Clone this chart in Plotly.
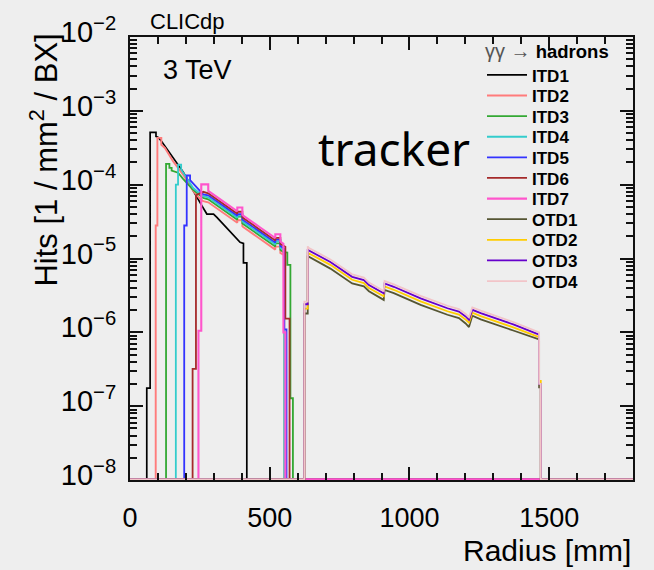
import plotly.graph_objects as go

Z = 1.02e-8  # empty bins are drawn on the frame bottom (ROOT log style)

# ---------------- data (radius in mm, hits per mm^2 per BX) ----------------
ITD1_r = [0, 60, 60, 72, 72, 93, 93, 100, 112, 125, 154, 190, 208, 226, 257, 275, 299, 311, 394, 406, 406, 418, 418, 1800]
ITD1_v = [Z, Z, 1.75e-7, 1.75e-7, 5.1e-4, 5.1e-4, 4.5e-4, 4.4e-4, 3.9e-4, 3.33e-4, 2.3e-4, 1.49e-4, 1.13e-4, 8.3e-5,
          5.2e-5, 4.0e-5, 4.0e-5, 3.6e-5, 1.66e-5, 1.6e-5, 8.7e-6, 8.7e-6, Z, Z]

ITD2_r = [0, 92, 92, 98, 98, 112, 112, 125, 136, 154, 172, 190, 208, 226, 251, 262, 280, 323, 384, 384,
          402, 402, 405, 466, 520, 520, 538, 538, 549, 552, 552, 1800]
ITD2_v = [Z, Z, 2.8e-5, 2.8e-5, 4.3e-4, 4.3e-4, 3.47e-4, 3.14e-4, 2.69e-4, 2.08e-4, 1.69e-4, 1.37e-4, 1.06e-4, 8.2e-5,
          6.4e-5, 6.0e-5, 5.77e-5, 4.44e-5, 3.05e-5, 3.3e-5, 3.3e-5, 2.74e-5, 2.67e-5, 1.84e-5, 1.32e-5, 1.45e-5,
          1.45e-5, 1.19e-5, 1.11e-5, 1.11e-5, Z, Z]

ITD3_r = [0, 129, 129, 141, 141, 149, 149, 172, 190, 208, 226, 262, 280, 323, 384, 384, 402, 402, 405, 466,
          520, 520, 538, 538, 549, 563, 563, 574, 574, 583, 583, 1800]
ITD3_v = [Z, Z, 1.91e-4, 1.91e-4, 1.69e-4, 1.69e-4, 1.55e-4, 1.45e-4, 1.2e-4, 1.0e-4, 8.5e-5, 6.6e-5, 6.33e-5, 4.87e-5,
          3.35e-5, 3.7e-5, 3.7e-5, 3.0e-5, 2.93e-5, 2.02e-5, 1.45e-5, 1.6e-5, 1.6e-5, 1.31e-5, 1.22e-5, 1.2e-5,
          8.2e-6, 8.2e-6, 1.28e-7, 1.28e-7, Z, Z]

ITD4_r = [0, 164, 164, 172, 172, 183, 183, 191, 208, 226, 262, 280, 323, 384, 384, 402, 402, 405, 466, 520,
          520, 538, 538, 549, 552, 552, 1800]
ITD4_v = [Z, Z, 1.0e-4, 1.0e-4, 1.86e-4, 1.86e-4, 1.6e-4, 1.45e-4, 1.15e-4, 9.0e-5, 7.0e-5, 6.73e-5, 5.18e-5, 3.56e-5,
          3.8e-5, 3.8e-5, 3.2e-5, 3.12e-5, 2.15e-5, 1.55e-5, 1.7e-5, 1.7e-5, 1.39e-5, 1.29e-5, 1.29e-5, Z, Z]

ITD5_r = [0, 194, 194, 203, 203, 215, 215, 233, 262, 280, 323, 384, 384, 402, 402, 405, 466, 520, 520, 538,
          538, 549, 552, 552, 560, 560, 1800]
ITD5_v = [Z, Z, 2.8e-5, 2.8e-5, 1.33e-4, 1.33e-4, 1.15e-4, 9.7e-5, 7.4e-5, 7.16e-5, 5.51e-5, 3.78e-5, 4.0e-5, 4.0e-5,
          3.4e-5, 3.31e-5, 2.29e-5, 1.64e-5, 1.8e-5, 1.8e-5, 1.48e-5, 1.37e-5, 1.37e-5, 1.1e-6, 1.1e-6, Z, Z]

ITD6_r = [0, 224, 224, 236, 236, 262, 280, 323, 384, 384, 402, 402, 405, 466, 520, 520, 538, 538, 556, 556,
          571, 571, 1800]
ITD6_v = [Z, Z, 3.2e-7, 3.2e-7, 7.2e-5, 8.0e-5, 7.62e-5, 5.86e-5, 4.03e-5, 4.3e-5, 4.3e-5, 3.62e-5, 3.53e-5, 2.44e-5,
          1.75e-5, 1.9e-5, 1.9e-5, 1.57e-5, 1.44e-5, 1.53e-6, 1.53e-6, Z, Z]

ITD7_r = [0, 245, 245, 255, 255, 280, 280, 323, 384, 384, 402, 402, 405, 466, 520, 520, 538, 538, 549, 549,
          556, 556, 1800]
ITD7_v = [Z, Z, 1.05e-6, 1.05e-6, 1.01e-4, 1.01e-4, 8.23e-5, 6.33e-5, 4.35e-5, 4.91e-5, 4.91e-5, 3.91e-5, 3.81e-5,
          2.63e-5, 1.89e-5, 2.13e-5, 2.13e-5, 1.70e-5, 1.58e-5, 1.0e-6, 1.0e-6, Z, Z]

OTD_r = [0, 624, 624, 636, 636, 639, 717, 795, 837, 855, 908, 911, 944, 1040, 1136, 1177, 1201, 1213, 1225,
         1255, 1374, 1446, 1464, 1464, 1470, 1470, 1800]
OTD1_v = [Z, Z, 1.8e-6, 1.8e-6, 1.10e-5, 1.06e-5, 7.3e-6, 4.6e-6, 4.2e-6, 3.6e-6, 2.75e-6, 3.75e-6, 3.4e-6, 2.36e-6,
          1.73e-6, 1.56e-6, 1.32e-6, 1.18e-6, 1.68e-6, 1.5e-6, 1.05e-6, 8.3e-7, 8.0e-7, 1.8e-7, 1.8e-7, Z, Z]
OTD2_v = [Z, Z, 2.1e-6, 2.1e-6, 1.23e-5, 1.18e-5, 8.2e-6, 5.15e-6, 4.65e-6, 3.98e-6, 3.07e-6, 4.18e-6, 3.77e-6, 2.62e-6,
          1.93e-6, 1.74e-6, 1.49e-6, 1.35e-6, 1.84e-6, 1.66e-6, 1.16e-6, 9.0e-7, 8.6e-7, 2.2e-7, 2.2e-7, Z, Z]
OTD3_v = [Z, Z, 2.4e-6, 2.4e-6, 1.35e-5, 1.29e-5, 8.97e-6, 5.65e-6, 5.1e-6, 4.37e-6, 3.37e-6, 4.59e-6, 4.14e-6, 2.88e-6,
          2.12e-6, 1.91e-6, 1.64e-6, 1.48e-6, 2.02e-6, 1.82e-6, 1.27e-6, 9.8e-7, 9.3e-7, 2.0e-7, 2.0e-7, Z, Z]
OTD4_v = [Z, Z, 2.6e-6, 2.6e-6, 1.46e-5, 1.40e-5, 9.7e-6, 6.1e-6, 5.5e-6, 4.72e-6, 3.64e-6, 4.96e-6, 4.47e-6, 3.11e-6,
          2.29e-6, 2.06e-6, 1.77e-6, 1.60e-6, 2.18e-6, 1.97e-6, 1.37e-6, 1.06e-6, 1.0e-6, 2.0e-7, 2.0e-7, Z, Z]

NAMES = ["ITD1", "ITD2", "ITD3", "ITD4", "ITD5", "ITD6", "ITD7", "OTD1", "OTD2", "OTD3", "OTD4"]
XS = [ITD1_r, ITD2_r, ITD3_r, ITD4_r, ITD5_r, ITD6_r, ITD7_r, OTD_r, OTD_r, OTD_r, OTD_r]
YS = [ITD1_v, ITD2_v, ITD3_v, ITD4_v, ITD5_v, ITD6_v, ITD7_v, OTD1_v, OTD2_v, OTD3_v, OTD4_v]
COLORS = ["#000000", "#ff7b7b", "#33a833", "#33cccc", "#3333ff", "#a52a2a", "#ff55cc",
          "#555533", "#ffcc00", "#6600cc", "#f2c4c8"]
WIDTHS = [1.7, 1.9, 1.8, 1.8, 1.8, 1.8, 2.1, 1.8, 1.8, 1.8, 1.8]

X_TICKS = [0, 500, 1000, 1500]
Y_TICKS = [1e-8, 1e-7, 1e-6, 1e-5, 1e-4, 1e-3, 1e-2]
Y_TICKTEXT = ["10<sup>\u22128</sup>", "10<sup>\u22127</sup>", "10<sup>\u22126</sup>", "10<sup>\u22125</sup>",
              "10<sup>\u22124</sup>", "10<sup>\u22123</sup>", "10<sup>\u22122</sup>"]

BG = "#eeeeee"
FONT = "Liberation Sans"
W, H = 654, 570
L, R, T, B = 130, 21, 33, 90
PW, PH = W - L - R, H - T - B


def px_x(p):
    return (p - L) / PW


def px_y(p):
    return (H - B - p) / PH


fig = go.Figure()
for i, (name, xs, ys, c, w) in enumerate(zip(NAMES, XS, YS, COLORS, WIDTHS)):
    fig.add_trace(go.Scatter(
        x=xs, y=ys, mode="lines", name="<b>%s</b>" % name,
        line=dict(color=c, width=w, shape="linear"),
        legend="legend" if i == 0 else "legend%d" % (i + 1),
        hoverinfo="skip",
    ))

# one legend box per entry so the ROOT-like row spacing can be matched
legend_layout = {}
for i in range(len(NAMES)):
    key = "legend" if i == 0 else "legend%d" % (i + 1)
    legend_layout[key] = dict(
        x=px_x(482), y=px_y(71.7 + i * 20.8), xanchor="left", yanchor="middle",
        bgcolor="rgba(0,0,0,0)", borderwidth=0, itemwidth=40,
        font=dict(family=FONT, size=17, color="black"),
        itemclick=False, itemdoubleclick=False,
    )

minor_y = [k * 10.0 ** e for e in range(-8, -2) for k in range(2, 10)]

axis_common = dict(
    ticks="inside", ticklen=13, tickwidth=2, tickcolor="#111111",
    showline=True, linecolor="#111111", linewidth=2, mirror="allticks",
    showgrid=False, zeroline=False,
)

fig.update_layout(
    width=W, height=H,
    margin=dict(l=L, r=R, t=T, b=B),
    paper_bgcolor=BG, plot_bgcolor=BG,
    showlegend=True,
    **legend_layout,
    xaxis=dict(
        range=[0, 1800], tickvals=X_TICKS, ticktext=[str(v) for v in X_TICKS],
        tickfont=dict(family=FONT, size=27, color="black"),
        ticklabelstandoff=13,
        minor=dict(ticks="inside", ticklen=7, tickwidth=1.5, tickcolor="#111111", dtick=100, showgrid=False),
        **axis_common,
    ),
    yaxis=dict(
        type="log", range=[-8, -2], tickvals=Y_TICKS, ticktext=Y_TICKTEXT,
        tickfont=dict(family=FONT, size=29, color="black"),
        ticklabelstandoff=6, ticklabelshift=-5,
        minor=dict(ticks="inside", ticklen=7, tickwidth=1.5, tickcolor="#111111", tickvals=minor_y, showgrid=False),
        **axis_common,
    ),
    annotations=[
        dict(text="Radius [mm]", xref="paper", yref="paper", x=1.0, y=px_y(551),
             xanchor="right", yanchor="middle", showarrow=False,
             font=dict(family=FONT, size=30, color="black")),
        dict(text="Hits [1 / mm<sup>2</sup> / BX]", xref="paper", yref="paper", x=px_x(44), y=px_y(28),
             xanchor="center", yanchor="top", textangle=-90, showarrow=False,
             font=dict(family=FONT, size=31, color="black")),
        dict(text="CLICdp", xref="paper", yref="paper", x=px_x(148), y=px_y(17),
             xanchor="left", yanchor="middle", showarrow=False,
             font=dict(family=FONT, size=22, color="black")),
        dict(text="3 TeV", xref="paper", yref="paper", x=px_x(161), y=px_y(66),
             xanchor="left", yanchor="middle", showarrow=False,
             font=dict(family=FONT, size=27, color="black")),
        dict(text="tracker", xref="paper", yref="paper", x=px_x(394), y=px_y(145),
             xanchor="center", yanchor="middle", showarrow=False,
             font=dict(family="Noto Sans", size=46, color="black")),
        dict(text="<span style='color:#555555;font-size:20px'>\u03b3\u03b3 \u2192</span> <b>hadrons</b>",
             xref="paper", yref="paper", x=px_x(483), y=px_y(47),
             xanchor="left", yanchor="middle", showarrow=False,
             font=dict(family=FONT, size=18.5, color="black")),
    ],
)

fig.write_html("out.html")
